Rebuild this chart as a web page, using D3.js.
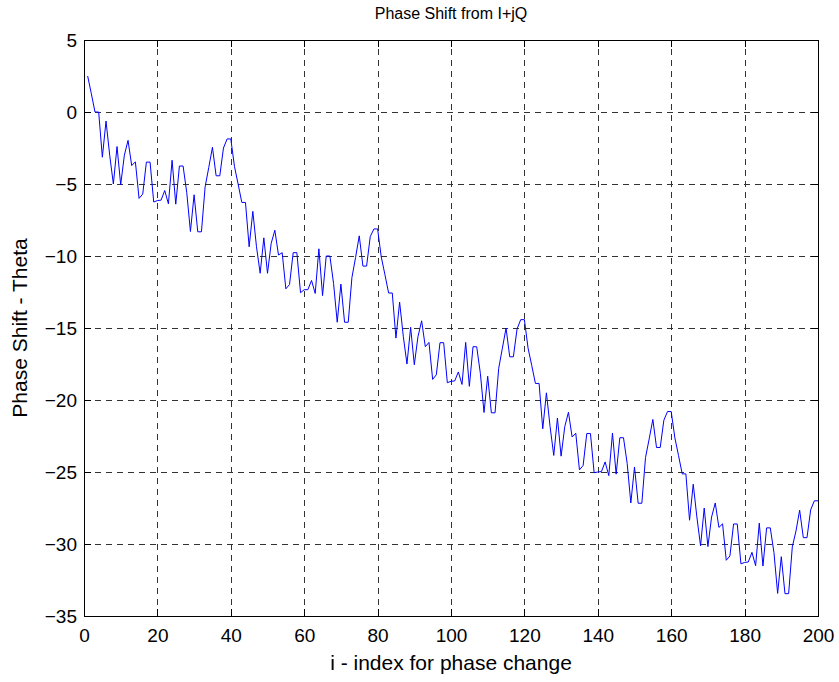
<!DOCTYPE html>
<html>
<head>
<meta charset="utf-8">
<script src="https://cdn.jsdelivr.net/npm/d3@7"></script>
<style>
  html, body { margin: 0; padding: 0; background: #ffffff; }
  svg { display: block; font-family: "Liberation Sans", Arial, Helvetica, sans-serif; }
</style>
</head>
<body>
<div id="chart"></div>
<script>
// ---- data ----
const titleText = "Phase Shift from I+jQ";
const xLabelText = "i - index for phase change";
const yLabelText = "Phase Shift - Theta";
const xTicks = [0, 20, 40, 60, 80, 100, 120, 140, 160, 180, 200];
const yTicks = [5, 0, -5, -10, -15, -20, -25, -30, -35];
const xDomain = [0, 200];
const yDomain = [-35, 5];

const thetaSeg1 = [2.50, 1.27, 0.00, 0.00, -3.14, -0.63, -3.00, -5.00, -2.40, -5.05,
  -3.00, -1.97, -3.72, -3.46, -6.00, -5.70, -3.48, -3.48, -6.25, -6.15,
  -6.12, -5.45, -6.38, -3.35, -6.40, -3.75, -3.75, -5.60, -8.30, -5.75,
  -8.32, -8.32, -5.20, -3.85, -2.45, -4.43, -4.43, -2.50, -1.87, -1.87];
const thetaSeg2 = [-3.78, -5.01, -6.28, -6.28, -9.36, -6.90, -9.36, -11.20, -8.74, -11.20,
  -9.13, -8.21, -9.93, -9.77, -12.28, -11.98, -9.77, -9.77, -12.55, -12.34,
  -12.34, -11.70, -12.60, -9.50, -12.75, -10.00, -10.00, -11.90, -14.60, -11.95,
  -14.60, -14.60, -11.50, -10.10, -8.60, -10.70, -10.70, -8.65, -8.12, -8.12];
const thetaSeg3 = [-10.07, -11.30, -12.57, -12.57, -15.70, -13.20, -15.57, -17.50, -14.95, -17.55,
  -15.60, -14.50, -16.30, -16.00, -18.57, -18.25, -16.02, -16.02, -18.80, -18.70,
  -18.68, -18.05, -18.92, -16.00, -19.05, -16.30, -16.30, -18.15, -20.87, -18.35,
  -20.89, -20.89, -17.80, -16.40, -15.00, -17.00, -17.00, -15.07, -14.42, -14.42];
const thetaSeg4 = [-16.40, -17.60, -18.85, -18.85, -22.00, -19.50, -21.85, -23.85, -21.25, -23.90,
  -21.85, -20.85, -22.57, -22.31, -24.85, -24.55, -22.33, -22.33, -25.05, -25.00,
  -24.97, -24.30, -25.25, -22.30, -25.15, -22.62, -22.62, -24.40, -27.15, -24.65,
  -27.17, -27.17, -24.00, -22.70, -21.35, -23.30, -23.30, -21.40, -20.80, -20.80];
const thetaSeg5 = [-22.63, -23.86, -25.13, -25.13, -28.35, -25.85, -28.13, -30.13, -27.50, -30.18,
  -28.13, -27.15, -28.85, -28.60, -31.13, -30.83, -28.61, -28.61, -31.38, -31.28,
  -31.25, -30.58, -31.51, -28.55, -31.53, -28.88, -28.88, -30.60, -33.43, -30.88,
  -33.45, -33.45, -30.20, -29.10, -27.65, -29.56, -29.56, -27.63, -27.00, -27.00];

const theta = [].concat(thetaSeg1, thetaSeg2, thetaSeg3, thetaSeg4, thetaSeg5);
const points = theta.map((v, k) => ({ i: k + 1, v: v }));

// ---- layout ----
const W = 839, H = 682;
const L = 84, R = 818, T = 40, B = 616;
const tickFont = 19, labelFont = 21, titleFont = 16;

const svg = d3.select("#chart").append("svg")
  .attr("width", W).attr("height", H);

svg.append("rect").attr("width", W).attr("height", H).attr("fill", "#fff");

const x = d3.scaleLinear().domain(xDomain).range([L, R]);
const y = d3.scaleLinear().domain(yDomain).range([B, T]);

// grid
const grid = svg.append("g").attr("stroke", "#333").attr("stroke-width", 1)
  .attr("stroke-dasharray", "6,5").attr("shape-rendering", "crispEdges");
grid.selectAll("line.gx").data(xTicks.slice(1, -1)).enter().append("line")
  .attr("x1", d => Math.round(x(d)) + 0.5).attr("x2", d => Math.round(x(d)) + 0.5)
  .attr("y1", B).attr("y2", T);
grid.selectAll("line.gy").data(yTicks.slice(1, -1)).enter().append("line")
  .attr("y1", d => Math.round(y(d)) + 0.5).attr("y2", d => Math.round(y(d)) + 0.5)
  .attr("x1", L).attr("x2", R);

// data line
const line = d3.line().x(d => x(d.i)).y(d => y(d.v));
svg.append("path").datum(points)
  .attr("fill", "none").attr("stroke", "#0000ff").attr("stroke-width", 1)
  .attr("d", line);

// axes (MATLAB style: inward ticks, box)
const tickLen = 7;
const xAxisB = d3.axisBottom(x).tickValues(xTicks).tickSizeInner(-tickLen).tickSizeOuter(0).tickPadding(13);
const xAxisT = d3.axisTop(x).tickValues(xTicks).tickSizeInner(-tickLen).tickSizeOuter(0).tickFormat("");
const yAxisL = d3.axisLeft(y).tickValues(yTicks).tickSizeInner(-tickLen).tickSizeOuter(0).tickPadding(7);
const yAxisR = d3.axisRight(y).tickValues(yTicks).tickSizeInner(-tickLen).tickSizeOuter(0).tickFormat("");

function style(g) {
  g.select(".domain").remove();
  g.selectAll("line").attr("stroke", "#000").attr("shape-rendering", "crispEdges");
  g.selectAll("text").attr("fill", "#000").style("font-size", tickFont + "px")
    .style("font-family", "'Liberation Sans', Arial, sans-serif");
}
svg.append("g").attr("transform", `translate(0,${B})`).call(xAxisB).call(style);
svg.append("g").attr("transform", `translate(0,${T})`).call(xAxisT).call(style);
svg.append("g").attr("transform", `translate(${L},0)`).call(yAxisL).call(style);
svg.append("g").attr("transform", `translate(${R},0)`).call(yAxisR).call(style);

// box
svg.append("rect").attr("x", L + 0.5).attr("y", T + 0.5)
  .attr("width", R - L).attr("height", B - T)
  .attr("fill", "none").attr("stroke", "#000").attr("stroke-width", 1)
  .attr("shape-rendering", "crispEdges");

// title and labels
svg.append("text").attr("x", (L + R) / 2).attr("y", 19)
  .attr("text-anchor", "middle").style("font-size", titleFont + "px").text(titleText);
svg.append("text").attr("x", (L + R) / 2).attr("y", 670)
  .attr("text-anchor", "middle").style("font-size", labelFont + "px").text(xLabelText);
svg.append("text").attr("transform", `translate(27,${(T + B) / 2}) rotate(-90)`)
  .attr("text-anchor", "middle").style("font-size", labelFont + "px").text(yLabelText);
</script>
</body>
</html>
